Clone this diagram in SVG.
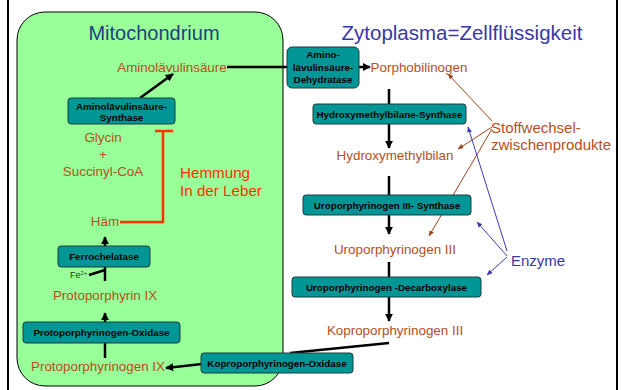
<svg xmlns="http://www.w3.org/2000/svg" width="621" height="390" viewBox="0 0 621 390">
<defs>
<style>
.box{fill:#009696;stroke:#1e3c3c;stroke-width:1}
.bt{font-family:"Liberation Sans",Arial,sans-serif;font-weight:bold;font-size:9.8px;fill:#000;text-anchor:middle}
.met{font-family:"Liberation Sans",Arial,sans-serif;font-size:13.4px;fill:#b4501e;text-anchor:middle}
.ln{stroke:#000;stroke-width:2.5;fill:none}
.br{stroke:#a0461e;stroke-width:1;fill:none}
.bl{stroke:#3c3cb4;stroke-width:1;fill:none}
</style>
<marker id="ah" viewBox="0 0 10 10" refX="9" refY="5" markerWidth="3.2" markerHeight="3.2" orient="auto"><path d="M0,0L10,5L0,10z" fill="#000"/></marker>
<marker id="ahb" viewBox="0 0 10 10" refX="9" refY="5" markerWidth="6" markerHeight="6" orient="auto"><path d="M0,1L10,5L0,9z" fill="#a0461e"/></marker>
<marker id="ahl" viewBox="0 0 10 10" refX="9" refY="5" markerWidth="6" markerHeight="6" orient="auto"><path d="M0,1L10,5L0,9z" fill="#3c3cb4"/></marker>
</defs>
<rect width="621" height="390" fill="#fff"/>
<line x1="8" y1="0" x2="8" y2="390" stroke="#000" stroke-width="2"/>
<line x1="617" y1="0" x2="617" y2="390" stroke="#000" stroke-width="2"/>
<g id="mitochondrium">
<rect x="17" y="12" width="266" height="374" rx="28" ry="28" fill="#99ff99" stroke="#000" stroke-width="1"/>
<text x="154" y="40" font-family="Liberation Sans,Arial,sans-serif" font-size="20" fill="#1f3f7f" text-anchor="middle">Mitochondrium</text>
</g>
<text x="462" y="40" font-family="Liberation Sans,Arial,sans-serif" font-size="20.5" fill="#3838a8" text-anchor="middle">Zytoplasma=Zellflüssigkeit</text>
<g id="connectors">
<line class="ln" x1="227" y1="67" x2="290" y2="67"/>
<line class="ln" x1="140" y1="98" x2="173" y2="74" marker-end="url(#ah)"/>
<line class="ln" x1="105" y1="246" x2="105" y2="237" marker-end="url(#ah)"/>
<line class="ln" x1="105" y1="281" x2="105" y2="267"/>
<line class="ln" x1="89" y1="275" x2="105" y2="270"/>
<line class="ln" x1="105" y1="322" x2="105" y2="313" marker-end="url(#ah)"/>
<line class="ln" x1="105" y1="358" x2="105" y2="343"/>
<line class="ln" x1="202" y1="364" x2="166" y2="368" marker-end="url(#ah)"/>
<line class="ln" x1="389" y1="343" x2="290" y2="353"/>
<line class="ln" x1="359" y1="67" x2="370" y2="67" marker-end="url(#ah)"/>
<line class="ln" x1="389" y1="89" x2="389" y2="104"/>
<line class="ln" x1="389" y1="124" x2="389" y2="148" marker-end="url(#ah)"/>
<line class="ln" x1="389" y1="176" x2="389" y2="195"/>
<line class="ln" x1="389" y1="215" x2="389" y2="234" marker-end="url(#ah)"/>
<line class="ln" x1="389" y1="262" x2="389" y2="277"/>
<line class="ln" x1="389" y1="297" x2="389" y2="321" marker-end="url(#ah)"/>
<polyline points="155,131 173,131" stroke="#ff3300" stroke-width="2.5" fill="none"/>
<polyline points="163,131 163,222 120,222" stroke="#ff3300" stroke-width="2.5" fill="none"/>
<line class="br" x1="492" y1="121" x2="448" y2="74" marker-end="url(#ahb)"/>
<line class="br" x1="492" y1="127" x2="458" y2="149" marker-end="url(#ahb)"/>
<line class="br" x1="492" y1="129" x2="429" y2="236" marker-end="url(#ahb)"/>
<line class="bl" x1="507" y1="251" x2="468" y2="127" marker-end="url(#ahl)"/>
<line class="bl" x1="507" y1="256" x2="477" y2="222" marker-end="url(#ahl)"/>
<line class="bl" x1="507" y1="257" x2="487" y2="275" marker-end="url(#ahl)"/>
</g>
<g id="ala">
<text class="met" x="172" y="72">Aminolävulinsäure</text>
</g>
<g id="ala-synthase">
<rect class="box" x="68" y="98" width="107" height="26" rx="3"/>
<text class="bt" x="121.5" y="109.5">Aminolävulinsäure-</text>
<text class="bt" x="121.5" y="121">Synthase</text>
</g>
<g id="glycin">
<text class="met" x="103" y="142">Glycin</text>
<text class="met" x="103" y="159">+</text>
<text class="met" x="103" y="176">Succinyl-CoA</text>
</g>
<g id="hemmung">
<text x="180" y="178" font-family="Liberation Sans,Arial,sans-serif" font-size="15.2" fill="#ff3300">Hemmung</text>
<text x="180" y="196" font-family="Liberation Sans,Arial,sans-serif" font-size="15.2" fill="#ff3300">In der Leber</text>
</g>
<g id="haem"><text class="met" x="105" y="226">Häm</text></g>
<g id="ferrochelatase">
<rect class="box" x="58" y="246" width="92" height="21" rx="3"/>
<text class="bt" x="104" y="260">Ferrochelatase</text>
</g>
<g id="fe"><text x="70" y="278" font-family="Liberation Sans,Arial,sans-serif" font-size="9" fill="#333">Fe<tspan font-size="6" dy="-3">2+</tspan></text></g>
<g id="protoporphyrin"><text class="met" x="105" y="300">Protoporphyrin IX</text></g>
<g id="ppo">
<rect class="box" x="23" y="322" width="157" height="21" rx="3"/>
<text class="bt" x="101.5" y="336">Protoporphyrinogen-Oxidase</text>
</g>
<g id="protoporphyrinogen"><text class="met" x="98" y="371">Protoporphyrinogen IX</text></g>
<g id="cpo">
<rect class="box" x="201" y="353" width="152" height="20" rx="3"/>
<text class="bt" x="277" y="366.5">Koproporphyrinogen-Oxidase</text>
</g>
<g id="dehydratase">
<rect class="box" x="287" y="47" width="72" height="41" rx="5"/>
<text class="bt" x="323" y="58">Amino-</text>
<text class="bt" x="323" y="70.5">lävulinsäure-</text>
<text class="bt" x="323" y="83">Dehydratase</text>
</g>
<g id="pbg"><text class="met" x="419" y="72">Porphobilinogen</text></g>
<g id="hmbs">
<rect class="box" x="313" y="104" width="153" height="20" rx="3"/>
<text class="bt" x="389.5" y="117.5">Hydroxymethylbilane-Synthase</text>
</g>
<g id="hmb"><text class="met" x="395" y="160">Hydroxymethylbilan</text></g>
<g id="uros">
<rect class="box" x="303" y="195" width="168" height="20" rx="3"/>
<text class="bt" x="387" y="208.5">Uroporphyrinogen III- Synthase</text>
</g>
<g id="uro3"><text class="met" x="395" y="254">Uroporphyrinogen III</text></g>
<g id="urod">
<rect class="box" x="292" y="277" width="189" height="20" rx="3"/>
<text class="bt" x="386.5" y="290.5">Uroporphyrinogen -Decarboxylase</text>
</g>
<g id="kopro3"><text class="met" x="395" y="335">Koproporphyrinogen III</text></g>
<g id="stoff">
<text x="491" y="133" font-family="Liberation Sans,Arial,sans-serif" font-size="15" fill="#b4501e">Stoffwechsel-</text>
<text x="491" y="150" font-family="Liberation Sans,Arial,sans-serif" font-size="15" fill="#b4501e">zwischenprodukte</text>
</g>
<g id="enzyme"><text x="511" y="266" font-family="Liberation Sans,Arial,sans-serif" font-size="15" fill="#3838a8">Enzyme</text></g>
</svg>
